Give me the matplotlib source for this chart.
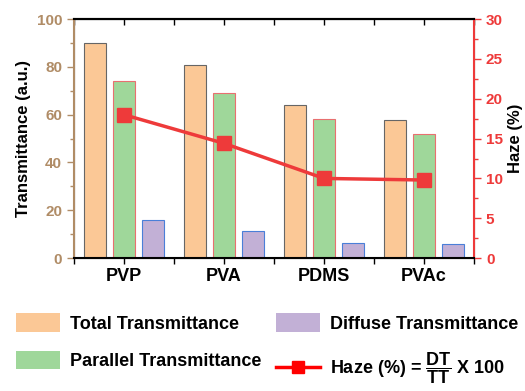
import matplotlib
matplotlib.use('Agg')
import matplotlib.pyplot as plt
from matplotlib.patches import Patch
from matplotlib.lines import Line2D
import numpy as np

plt.rcParams['font.family'] = ['Liberation Sans', 'DejaVu Sans']
plt.rcParams['font.weight'] = 'bold'
plt.rcParams['mathtext.fontset'] = 'custom'
plt.rcParams['mathtext.rm'] = 'Liberation Sans:bold'
plt.rcParams['mathtext.bf'] = 'Liberation Sans:bold'

# data
materials = ['PVP', 'PVA', 'PDMS', 'PVAc']
total_t = [90, 81, 64, 57.8]
parallel_t = [74, 69, 58, 52]
diffuse_t = [16, 11.5, 6.5, 5.8]
haze = [18, 14.4, 10, 9.8]

brown = '#b08c66'
red = '#ee3a3a'

fig = plt.figure(figsize=(5.25, 3.91), dpi=100)
ax = fig.add_axes([0.141, 0.340, 0.762, 0.611])
ax2 = ax.twinx()

x = np.arange(len(materials)) + 0.5
w = 0.22
off = 0.29
ax.bar(x - off, total_t, w, color='#fbc896', edgecolor='#666666', linewidth=0.8, zorder=2)
ax.bar(x, parallel_t, w, color='#9fd79a', edgecolor='#e87070', linewidth=0.8, zorder=2)
ax.bar(x + off, diffuse_t, w, color='#c2b0d6', edgecolor='#4a7fd8', linewidth=0.8, zorder=2)

ax2.plot(x, haze, color=red, linewidth=2.5, marker='s', markersize=10,
         markerfacecolor=red, markeredgecolor=red, zorder=3)

ax.set_xlim(0, 4)
ax.set_ylim(0, 100)
ax2.set_ylim(0, 30)
ax.set_xticks(x)
ax.set_xticklabels(materials, fontsize=13, fontweight='bold')
ax.set_xticks(np.arange(0, 5), minor=True)
ax.tick_params(axis='x', which='both', direction='out', length=4, width=1)

# inward ticks along the top
top = ax.secondary_xaxis('top')
top.set_xticks(x)
top.set_xticks(np.arange(0, 5), minor=True)
top.tick_params(axis='x', which='both', direction='in', length=4, width=1,
                labeltop=False)
top.spines['top'].set_linewidth(1.5)

ax.set_yticks(np.arange(0, 101, 20))
ax.set_yticks(np.arange(10, 100, 20), minor=True)
ax.tick_params(axis='y', which='both', colors=brown, labelsize=11, width=1)
ax.tick_params(axis='y', which='major', length=5)
ax.tick_params(axis='y', which='minor', length=3)
ax.set_ylabel('Transmittance (a.u.)', fontsize=12, fontweight='bold', color='black')

ax2.set_yticks(np.arange(0, 31, 5))
ax2.set_yticks(np.arange(2.5, 30, 5), minor=True)
ax2.tick_params(axis='y', which='both', colors=red, labelsize=11, width=1)
ax2.tick_params(axis='y', which='major', length=5)
ax2.tick_params(axis='y', which='minor', length=3)
ax2.set_ylabel('Haze (%)', fontsize=12, fontweight='bold', color='black')

for s in ['top', 'bottom']:
    ax2.spines[s].set_linewidth(1.5)
ax2.spines['left'].set_color(brown)
ax2.spines['left'].set_linewidth(1.5)
ax2.spines['right'].set_color(red)
ax2.spines['right'].set_linewidth(1.5)
for lab in ax.get_yticklabels() + ax2.get_yticklabels():
    lab.set_fontweight('bold')

handles = [
    Patch(facecolor='#fbc896', edgecolor='none'),
    Patch(facecolor='#9fd79a', edgecolor='none'),
    Patch(facecolor='#c2b0d6', edgecolor='none'),
    Line2D([], [], color='#ff0000', linewidth=2.5, marker='s', markersize=9),
]
labels = ['Total Transmittance', 'Parallel Transmittance',
          'Diffuse Transmittance', r'Haze (%) = $\mathbf{\dfrac{DT}{TT}}$ X 100']
fig.legend(handles, labels, ncol=2, loc='upper left', bbox_to_anchor=(0.0, 0.24),
           frameon=False, handlelength=2.4, handleheight=1.2,
           handletextpad=0.6, columnspacing=0.8, labelspacing=1.0,
           prop={'weight': 'bold', 'size': 13})

fig.savefig('out.png', dpi=100)
